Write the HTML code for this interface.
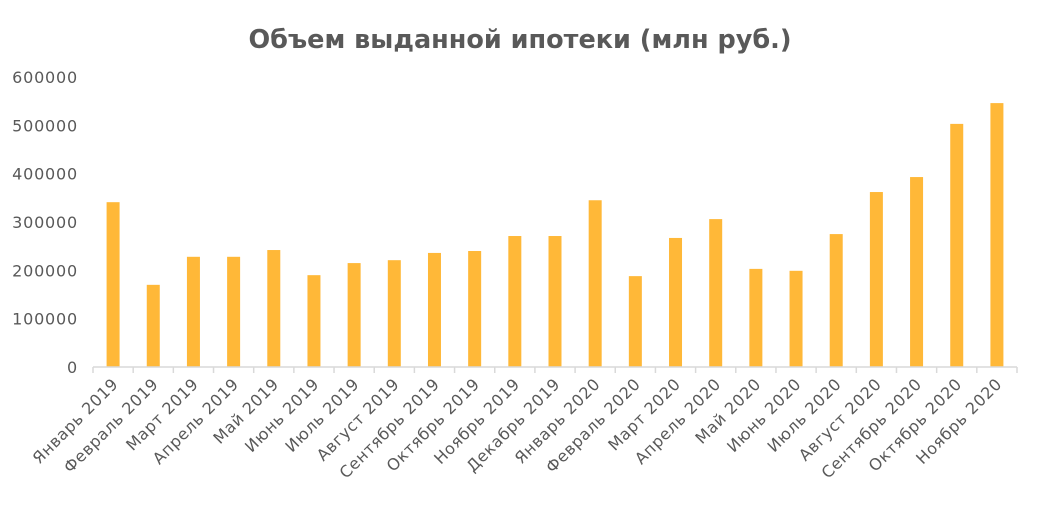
<!DOCTYPE html>
<html><head><meta charset="utf-8"><style>
body{margin:0;background:#fff;}
svg text{font-family:"DejaVu Sans","Liberation Sans",sans-serif;fill:#595959;}
</style></head><body>
<svg width="1041" height="505" id="c">
<text x="520" y="48" text-anchor="middle" font-size="25.5" font-weight="bold">Объем выданной ипотеки (млн руб.)</text>
</svg>
<script>
const categories=["Январь 2019","Февраль 2019","Март 2019","Апрель 2019","Май 2019","Июнь 2019","Июль 2019","Август 2019","Сентябрь 2019","Октябрь 2019","Ноябрь 2019","Декабрь 2019","Январь 2020","Февраль 2020","Март 2020","Апрель 2020","Май 2020","Июнь 2020","Июль 2020","Август 2020","Сентябрь 2020","Октябрь 2020","Ноябрь 2020"];
const values=[341000,170000,228000,228000,242000,190000,215000,221000,236000,240000,271000,271000,345000,188000,267000,306000,203000,199000,275000,362000,393000,503000,546000];
const yTicks=[0,100000,200000,300000,400000,500000,600000];
const svg=document.getElementById('c');
const NS='http://www.w3.org/2000/svg';
const x0=93,x1=1017,yBase=367,yTop=77,yMax=600000;
const bw=(x1-x0)/categories.length;
const y=v=>yBase-(v/yMax)*(yBase-yTop);
const xc=i=>x0+bw*(i+0.5);
function mk(t,a){const e=document.createElementNS(NS,t);for(const k in a)e.setAttribute(k,a[k]);svg.appendChild(e);return e;}
yTicks.forEach(t=>{const e=mk('text',{x:78,y:y(t)+6,'text-anchor':'end','font-size':16,'letter-spacing':'0.8'});e.textContent=t;

});
values.forEach((v,i)=>{const r=mk('rect',{x:xc(i)-6.5,y:y(v),width:13,height:yBase-y(v),fill:'#FFB838'});

});
const ax=mk('line',{x1:x0,y1:yBase,x2:x1,y2:yBase,stroke:'#d9d9d9','stroke-width':1.5});


for(let i=0;i<=categories.length;i++){const t=mk('line',{x1:x0+bw*i,y1:yBase,x2:x0+bw*i,y2:yBase+6,stroke:'#d9d9d9','stroke-width':1.5});

}
categories.forEach((c,i)=>{const t=mk('text',{x:xc(i)+6,y:yBase+18,'text-anchor':'end','font-size':16,'letter-spacing':'0.6',transform:`rotate(-45 ${xc(i)+6} ${yBase+18})`});t.textContent=c;

});
</script>
</body></html>
